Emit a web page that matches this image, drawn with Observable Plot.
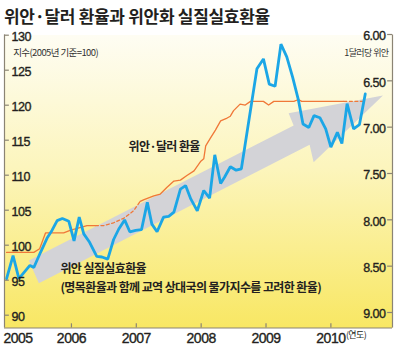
<!DOCTYPE html>
<html><head><meta charset="utf-8">
<script src="https://cdn.jsdelivr.net/npm/d3@7"></script>
<script src="https://cdn.jsdelivr.net/npm/@observablehq/plot@0.6"></script>
<style>
html,body{margin:0;padding:0;background:#fff;}
#title{font-family:"Noto Sans CJK KR",sans-serif;font-weight:700;font-size:17px;letter-spacing:-0.3px;color:#231f20;height:28px;line-height:31px;padding-left:4px;white-space:nowrap;}
#chart svg{display:block;}
</style></head><body>
<div id="title"></div>
<div id="chart"></div>
<script>
const titleText = "위안·달러 환율과 위안화 실질실효환율";
const leftUnitLabel = "지수(2005년 기준=100)";
const rightUnitLabel = "1달러당 위안";
const cnyLabel = "위안·달러 환율";
const reerLabel = "위안 실질실효환율";
const reerNote = "(명목환율과 함께 교역 상대국의 물가지수를 고려한 환율)";
const yearUnit = "(연도)";

// Real effective exchange rate index (2005 = 100), left axis
const reerYears = [2005.00,2005.10,2005.19,2005.27,2005.36,2005.42,2005.52,2005.63,2005.70,2005.78,2005.86,2005.96,
  2006.04,2006.12,2006.19,2006.28,2006.39,2006.47,2006.56,2006.65,2006.73,2006.82,2006.90,2006.99,
  2007.08,2007.17,2007.24,2007.32,2007.42,2007.50,2007.58,2007.68,2007.76,2007.84,2007.94,
  2008.04,2008.13,2008.21,2008.30,2008.36,2008.45,2008.54,2008.62,2008.86,2008.96,
  2009.05,2009.14,2009.23,2009.32,2009.41,2009.50,2009.57,2009.66,2009.74,2009.83,2009.92,
  2010.00,2010.10,2010.17,2010.25,2010.35,2010.44,2010.53];
const reerValues = [95.5,98.8,95.5,96.4,97.4,97.1,99.2,101.4,102.4,103.8,104.1,103.7,
  100.9,104.3,101.9,100.7,98.7,98.6,98.3,101.1,102.6,103.9,102.2,102.4,
  102.5,106.4,103.3,102.2,104.3,104.4,105.0,108.3,108.8,106.9,105.2,
  108.1,107.0,113.2,109.1,110.0,111.5,111.0,111.2,125.5,126.9,
  123.3,123.0,129.0,127.2,124.3,121.0,117.6,117.1,118.8,118.5,116.9,
  114.3,116.4,114.8,120.5,116.9,117.5,121.9];

// Yuan per dollar, right axis (inverted)
const cnyYears = [2005.00,2005.42,2005.51,2005.60,2005.88,2005.99,2006.09,2006.24,2006.37,2006.50,2006.65,2006.81,2006.96,
  2007.06,2007.12,2007.27,2007.37,2007.47,2007.58,2007.68,2007.78,2007.89,2007.99,
  2008.04,2008.07,2008.14,2008.22,2008.30,2008.40,2008.45,2008.50,2008.60,2008.68,2008.76,2008.96,
  2009.04,2009.12,2009.43,2009.50,2009.55,2010.20,2010.50];
const cnyRates = [8.33,8.33,8.29,8.12,8.12,8.09,8.07,8.04,8.04,8.04,8.01,7.96,7.88,
  7.78,7.76,7.72,7.70,7.63,7.56,7.55,7.50,7.45,7.35,
  7.32,7.18,7.10,7.01,6.91,6.88,6.86,6.80,6.73,6.74,6.70,6.70,
  6.74,6.70,6.70,6.68,6.70,6.70,6.70];
const cnyDashedSpans = [[2006.37, 2007.06], [2010.20, 2010.50]];

// Big trend arrow outline (year, index)
const arrowYears = [2005.344, 2009.426, 2009.349, 2010.802, 2009.734, 2009.672, 2005.498];
const arrowValues = [98.10, 117.39, 119.15, 121.67, 112.15, 114.62, 94.86];

const leftTicks = [90, 95, 100, 105, 110, 115, 120, 125, 130];
const rightTicks = [6.00, 6.50, 7.00, 7.50, 8.00, 8.50, 9.00];
const xTicks = [2005, 2006, 2007, 2008, 2009, 2010];

document.getElementById("title").textContent = titleText;

const xDom = [2004.968, 2010.95];
const yDom = [88.457, 130.314];
const rateToIndex = r => 130.1 - (r - 6) * 13.238;

const reer = reerYears.map((x, i) => ({x, y: reerValues[i]}));
const cny = cnyYears.map((x, i) => ({x, y: rateToIndex(cnyRates[i])}));
const arrow = arrowYears.map((x, i) => ({x, y: arrowValues[i]}));

const inDash = x => cnyDashedSpans.some(([a, b]) => x > a && x < b);
const runs = [];
let cur = null;
for (let i = 0; i < cny.length - 1; i++) {
  const dashed = inDash((cny[i].x + cny[i + 1].x) / 2);
  if (!cur || cur.dashed !== dashed) { cur = {dashed, pts: [cny[i]]}; runs.push(cur); }
  cur.pts.push(cny[i + 1]);
}
const cnyRuns = runs.flatMap((r, k) => r.pts.map(p => ({...p, run: k, dashed: r.dashed})));

const NUM = "Liberation Sans, Arial, sans-serif";
const KR = "Noto Sans CJK KR, sans-serif";
const INK = "#231f20";
const AXIS = "#8b8474";
const numStyle = {fontFamily: NUM, fill: INK, stroke: INK, strokeWidth: 0.35};

const chart = Plot.plot({
  width: 400, height: 324,
  marginLeft: 4, marginRight: 8, marginTop: 6.5, marginBottom: 24.5,
  x: {type: "linear", domain: xDom, axis: null},
  y: {type: "linear", domain: yDom, axis: null},
  style: {background: "transparent", overflow: "visible"},
  marks: [
    Plot.frame({fill: "url(#bgGrad)", stroke: "none"}),
    Plot.line(arrow, {x: "x", y: "y", fill: "#d3d3d7", stroke: "none", curve: "linear"}),
    Plot.line(cnyRuns.filter(d => !d.dashed), {x: "x", y: "y", z: "run", stroke: "#f07838", strokeWidth: 1.3}),
    Plot.line(cnyRuns.filter(d => d.dashed), {x: "x", y: "y", z: "run", stroke: "#f07838", strokeWidth: 1.3, strokeDasharray: "3,2.5"}),
    Plot.line(reer, {x: "x", y: "y", stroke: "#1ba6e6", strokeWidth: 2.8, strokeLinejoin: "miter"}),
    // frame lines
    Plot.ruleX(xDom, {x: d => d, y1: () => yDom[0], y2: () => 130.3, stroke: AXIS, strokeWidth: 1.2}),
    Plot.ruleY([yDom[0]], {y: d => d, x1: () => xDom[0], x2: () => xDom[1], stroke: AXIS, strokeWidth: 1.2}),
    // left axis
    Plot.ruleY(leftTicks, {y: d => d, x1: () => xDom[0], x2: () => xDom[0] + 0.075, dy: -2, stroke: AXIS, strokeWidth: 1.2}),
    Plot.text(leftTicks, {x: () => xDom[0], y: d => d, text: d => String(d), textAnchor: "start", dx: 7, fontSize: 12.5, ...numStyle}),
    // right axis
    Plot.ruleY(rightTicks, {y: r => rateToIndex(r), x1: () => xDom[1] - 0.075, x2: () => xDom[1], dy: -2, stroke: AXIS, strokeWidth: 1.2}),
    Plot.text(rightTicks, {x: () => xDom[1], y: r => rateToIndex(r), text: r => r.toFixed(2), textAnchor: "end", dx: -7, fontSize: 12.5, ...numStyle}),
    // x axis
    Plot.ruleX(xTicks.slice(1), {x: d => d, y1: () => yDom[0], y2: () => yDom[0] + 0.6, stroke: AXIS, strokeWidth: 1.2}),
    Plot.text(xTicks.slice(1), {x: d => d, frameAnchor: "bottom", lineAnchor: "middle", dy: 10.5, text: d => String(d), fontSize: 14, ...numStyle}),
    Plot.text(xTicks.slice(0, 1), {x: () => xDom[0], frameAnchor: "bottom", lineAnchor: "middle", dy: 10.5, dx: -1, textAnchor: "start", text: d => String(d), fontSize: 14, ...numStyle}),
    Plot.text([yearUnit], {x: () => 2010, frameAnchor: "bottom", lineAnchor: "middle", dy: 7.5, dx: 15, textAnchor: "start", text: d => d, fontFamily: KR, fontSize: 9, fill: INK}),
    // unit labels
    Plot.text([leftUnitLabel], {x: () => 2005.102, y: () => 127.74, text: d => d, textAnchor: "start", fontFamily: KR, fontSize: 9.5, fill: "#333"}),
    Plot.text([rightUnitLabel], {x: () => xDom[1], y: () => 127.74, text: d => d, textAnchor: "end", dx: -4, fontFamily: KR, fontSize: 9, fill: "#333"}),
    // annotations
    Plot.text([cnyLabel], {x: () => 2006.88, y: () => 114.24, text: d => d, textAnchor: "start", fontFamily: KR, fontSize: 12, fontWeight: 700, fill: INK}),
    Plot.text([reerLabel], {x: () => 2005.83, y: () => 96.81, text: d => d, textAnchor: "start", fontFamily: KR, fontSize: 12, fontWeight: 700, fill: INK}),
    Plot.text([reerNote], {x: () => 2005.83, y: () => 94.1, text: d => d, textAnchor: "start", fontFamily: KR, fontSize: 12, fontWeight: 700, fill: INK})
  ]
});

const svg = chart.tagName.toLowerCase() === "svg" ? chart : chart.querySelector("svg");
d3.select(svg).insert("defs", ":first-child").html(
  '<linearGradient id="bgGrad" x1="0" y1="0" x2="0" y2="1">' +
  '<stop offset="0" stop-color="#fefdf3"/><stop offset="0.45" stop-color="#fcf5bd"/><stop offset="1" stop-color="#f8e763"/>' +
  '</linearGradient>');
for (const t of svg.querySelectorAll("text")) {
  t.setAttribute("letter-spacing", /[가-힣]/.test(t.textContent) ? "-0.6" : "-0.5");
}
document.getElementById("chart").appendChild(chart);
</script>
</body></html>
